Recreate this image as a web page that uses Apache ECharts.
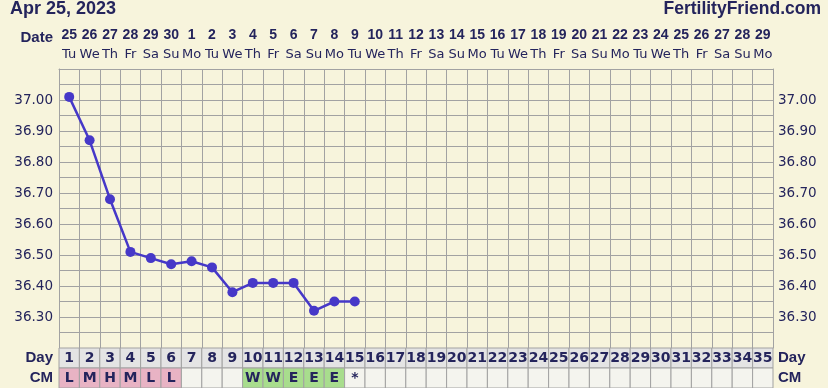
<!DOCTYPE html>
<html>
<head>
<meta charset="utf-8">
<script src="https://cdn.jsdelivr.net/npm/echarts@6/dist/echarts.min.js"></script>
<style>
html,body{margin:0;padding:0;background:#f7f4dc;}
#c{width:828px;height:388px;}
</style>
</head>
<body>
<div id="c"></div>
<script>
const chartDate = 'Apr 25, 2023';
const siteName = 'FertilityFriend.com';
const dates = ['25','26','27','28','29','30','1','2','3','4','5','6','7','8','9','10','11','12','13','14','15','16','17','18','19','20','21','22','23','24','25','26','27','28','29'];
const weekdays = ['Tu','We','Th','Fr','Sa','Su','Mo','Tu','We','Th','Fr','Sa','Su','Mo','Tu','We','Th','Fr','Sa','Su','Mo','Tu','We','Th','Fr','Sa','Su','Mo','Tu','We','Th','Fr','Sa','Su','Mo'];
const cycleDays = ['1','2','3','4','5','6','7','8','9','10','11','12','13','14','15','16','17','18','19','20','21','22','23','24','25','26','27','28','29','30','31','32','33','34','35'];
const temps = [37.01, 36.87, 36.68, 36.51, 36.49, 36.47, 36.48, 36.46, 36.38, 36.41, 36.41, 36.41, 36.32, 36.35, 36.35];
const cm = ['L','M','H','M','L','L','','','','W','W','E','E','E','*'];
const tempLabels = ['37.00','36.90','36.80','36.70','36.60','36.50','36.40','36.30'];
const rowLabels = ['Day','CM'];

const NAVY = '#24245c';
const GRIDC = '#a2a2a2';
const cmFill = {L:'#e8b3c4', M:'#e8b3c4', H:'#e8b3c4', W:'#a8dd8d', E:'#a8dd8d'};

const cells = [];
cycleDays.forEach((d, i) => cells.push({x: i, y: 0, text: d, fill: '#e4e4e4', font: 'bold 14px "DejaVu Sans"'}));
cycleDays.forEach((d, i) => {
  const v = cm[i] || '';
  cells.push({x: i, y: 1, text: v, fill: cmFill[v] || '#f4f4ee', font: 'bold 14px "DejaVu Sans"'});
});

const chart = echarts.init(document.getElementById('c'), null, {renderer: 'canvas'});
const fmtTemp = v => {
  const s = (Math.round(v * 100) / 100).toFixed(2);
  return tempLabels.indexOf(s) >= 0 ? s : '';
};
const tempY = (pos) => ({
  type: 'value', gridIndex: 0, position: pos, min: 36.2, max: 37.1, interval: 0.05,
  axisLine: {show: true, lineStyle: {color: GRIDC, width: 1}},
  axisTick: {show: false},
  splitLine: {show: true, lineStyle: {color: GRIDC, width: 1}},
  axisLabel: {formatter: fmtTemp, color: NAVY, fontFamily: 'DejaVu Sans', fontSize: 13.5, margin: pos === 'left' ? 6 : 5}
});
const rowY = (pos) => ({
  type: 'category', gridIndex: 1, position: pos, data: rowLabels, inverse: true,
  axisLine: {show: false}, axisTick: {show: false}, splitLine: {show: false},
  axisLabel: {color: NAVY, fontFamily: 'Liberation Sans', fontWeight: 'bold', fontSize: 15, margin: pos === 'left' ? 6 : 5}
});

chart.setOption({
  backgroundColor: '#f7f4dc',
  animation: false,
  grid: [
    {left: 59, top: 69, width: 714, height: 279, containLabel: false},
    {left: 59, top: 348, width: 714, height: 40, containLabel: false}
  ],
  xAxis: [
    {
      type: 'category', gridIndex: 0, position: 'top', data: dates, boundaryGap: true,
      axisLine: {show: true, lineStyle: {color: GRIDC, width: 1}},
      axisTick: {show: false},
      splitLine: {show: true, interval: 0, lineStyle: {color: GRIDC, width: 1}},
      axisLabel: {
        interval: 0, hideOverlap: false, margin: 4,
        formatter: (v, i) => '{d|' + v + '}\n{w|' + weekdays[i] + '}',
        rich: {
          d: {fontFamily: 'Liberation Sans', fontWeight: 'bold', fontSize: 14, color: NAVY, lineHeight: 20},
          w: {fontFamily: 'DejaVu Sans', fontSize: 13, color: NAVY, lineHeight: 20}
        }
      }
    },
    {
      type: 'category', gridIndex: 1, data: cycleDays, boundaryGap: true,
      axisLine: {show: false}, axisTick: {show: false}, axisLabel: {show: false}, splitLine: {show: false}
    }
  ],
  yAxis: [tempY('left'), tempY('right'), rowY('left'), rowY('right')],
  graphic: [
    {type: 'text', left: 10, top: 0, style: {text: chartDate, font: 'bold 18px "Liberation Sans"', fill: NAVY}},
    {type: 'text', right: 7, top: 0, style: {text: siteName, font: 'bold 17.5px "Liberation Sans"', fill: NAVY}},
    {type: 'text', x: 53, y: 38, style: {text: 'Date', font: 'bold 15px "Liberation Sans"', fill: NAVY, align: 'right', verticalAlign: 'middle'}}
  ],
  series: [
    {
      type: 'custom', xAxisIndex: 1, yAxisIndex: 2,
      data: cells.map(c => [c.x, c.y]),
      renderItem: (params, api) => {
        const c = cells[params.dataIndex];
        const p = api.coord([api.value(0), api.value(1)]);
        const s = api.size([1, 1]);
        return {
          type: 'group',
          children: [
            {type: 'rect', shape: {x: p[0] - s[0] / 2, y: p[1] - s[1] / 2, width: s[0], height: s[1]},
             style: {fill: c.fill, stroke: GRIDC, lineWidth: 1}},
            {type: 'text', style: {text: c.text, x: p[0], y: p[1] + 0.5, align: 'center', verticalAlign: 'middle', font: c.font, fill: NAVY}}
          ]
        };
      }
    },
    {
      type: 'line', xAxisIndex: 0, yAxisIndex: 0, data: temps,
      symbol: 'circle', symbolSize: 10,
      lineStyle: {color: '#4638c8', width: 2.5},
      itemStyle: {color: '#4638c8'},
      z: 5
    }
  ]
});
</script>
</body>
</html>
